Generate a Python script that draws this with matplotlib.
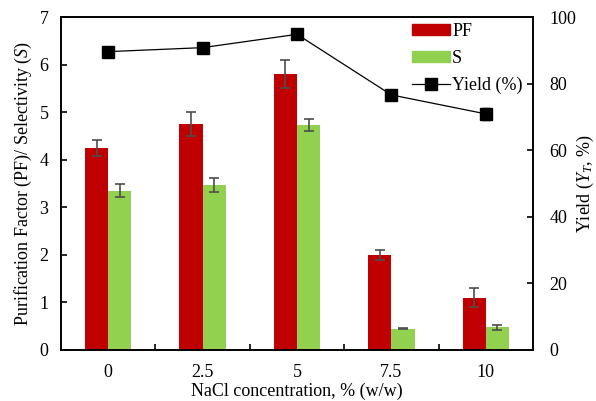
import matplotlib.pyplot as plt
import numpy as np
from matplotlib.patches import Patch
from matplotlib.lines import Line2D

plt.rcParams['font.family'] = ['Liberation Serif', 'DejaVu Serif']
plt.rcParams['mathtext.fontset'] = 'custom'
plt.rcParams['mathtext.rm'] = 'Liberation Serif'
plt.rcParams['mathtext.it'] = 'Liberation Serif:italic'

# data
nacl = ['0', '2.5', '5', '7.5', '10']
pf = [4.25, 4.75, 5.8, 2.0, 1.1]
pf_err = [0.17, 0.26, 0.29, 0.11, 0.2]
s = [3.35, 3.47, 4.73, 0.45, 0.48]
s_err = [0.14, 0.15, 0.13, 0.01, 0.05]
yld = [89.6, 90.8, 94.8, 76.6, 70.9]
yld_err = [0.5, 0.5, 0.5, 0.5, 1.8]

x = np.arange(len(nacl))
w = 0.245
fs = 13

fig = plt.figure(figsize=(5.96, 4.01), dpi=100)
ax = fig.add_axes([61 / 596, 51 / 401, 472 / 596, 333 / 401])

ecol = '#4d4d4d'
ax.bar(x - w / 2, pf, w, color='#C00000', yerr=pf_err,
       error_kw=dict(ecolor=ecol, elinewidth=1.2, capsize=3.5, capthick=1.2))
ax.bar(x + w / 2, s, w, color='#92D050', yerr=s_err,
       error_kw=dict(ecolor=ecol, elinewidth=1.2, capsize=3.5, capthick=1.2))

ax.set_xlim(-0.5, len(nacl) - 0.5)
ax.set_ylim(0, 7)
ax.set_xticks(x)
ax.set_xticklabels(nacl)
ax.set_xticks(x[:-1] + 0.5, minor=True)
ax.tick_params(axis='x', which='major', length=0, pad=10, labelsize=fs)
ax.tick_params(axis='x', which='minor', direction='in', length=4, width=1.2)
ax.tick_params(axis='y', direction='in', length=4, width=1.2, labelsize=fs, pad=9)
ax.set_xlabel('NaCl concentration, % (w/w)', fontsize=fs, labelpad=1)
ax.set_ylabel('Purification Factor (PF)/ Selectivity ($S$)', fontsize=fs, labelpad=4)

ax2 = ax.twinx()
ax2.errorbar(x, yld, yerr=yld_err, color='black', lw=0.9, marker='s',
             markersize=8, ecolor='black', capsize=3)
ax2.set_ylim(0, 100)
ax2.set_yticks([0, 20, 40, 60, 80, 100])
ax2.tick_params(axis='y', direction='in', length=4, width=1.2, labelsize=fs, pad=12)
ax2.set_ylabel('Yield ($Y_T$, %)', fontsize=fs, labelpad=-1)

for a in (ax, ax2):
    for sp in a.spines.values():
        sp.set_linewidth(1.2)

handles = [Patch(color='#C00000'), Patch(color='#92D050'),
           Line2D([0], [0], color='black', lw=0.9, marker='s', markersize=8)]
ax2.legend(handles, ['PF', 'S', 'Yield (%)'], loc='upper right',
           bbox_to_anchor=(1.005, 1.02), frameon=False, fontsize=fs,
           handlelength=2.1, handleheight=0.55, labelspacing=0.55, handletextpad=0.15,
           borderaxespad=0.3)

fig.savefig('out.png', dpi=100)
